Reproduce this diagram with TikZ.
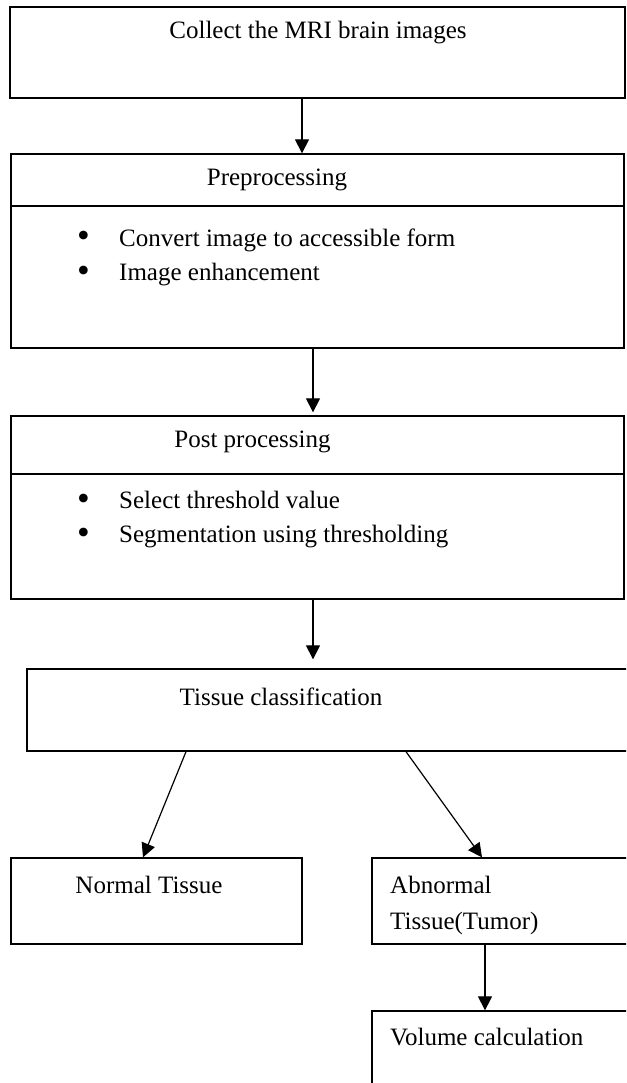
\documentclass[tikz,border=0pt]{standalone}
\usepackage{fontspec}
\setmainfont{Liberation Serif}
\usetikzlibrary{arrows.meta}
\tikzset{
  box/.style={draw=black, line width=1.3pt, rectangle, inner sep=0pt},
  txt/.style={inner sep=0pt, font=\fontsize{25}{36}\selectfont},
  arr/.style={draw=black, line width=1.2pt, -{Triangle[length=14pt,width=14pt]}},
}
\newcommand{\bul}{\makebox[42pt][l]{\raisebox{-1.5pt}{\scalebox{1.45}{\textbullet}}}}
\begin{document}
\begin{tikzpicture}[x=1pt,y=-1pt]
\useasboundingbox (0,0) rectangle (626,1083);
\clip (0,0) rectangle (626,1083);
% boxes
\node[box, minimum width=615pt, minimum height=91pt] (top) at (317.5,52.5) {};
\node[box, minimum width=613pt, minimum height=194pt] (pre) at (317.5,251) {};
\draw[line width=1.3pt] (pre.west |- 0,206) -- (pre.east |- 0,206);
\node[box, minimum width=613pt, minimum height=183pt] (post) at (317.5,507.5) {};
\draw[line width=1.3pt] (post.west |- 0,474) -- (post.east |- 0,474);
\node[box, minimum width=613pt, minimum height=82pt] (tissue) at (333.5,710) {};
\node[box, minimum width=291pt, minimum height=86pt] (normal) at (156.5,901) {};
\node[box, minimum width=268pt, minimum height=86pt] (abn) at (506,901) {};
\node[box, minimum width=268pt, minimum height=100pt] (vol) at (506,1061) {};
% texts
\node[txt] (ttop) at (318,33) {Collect the MRI brain images};
\node[txt] (tpre) at (277,180) {Preprocessing};
\node[txt, anchor=west, align=left] (bpre1) at (77,240) {\bul Convert image to accessible form};
\node[txt, anchor=west, align=left] (bpre2) at (77,275) {\bul Image enhancement};
\node[txt] (tpost) at (252.5,442) {Post processing};
\node[txt, anchor=west, align=left] (bpost1) at (77,501) {\bul Select threshold value};
\node[txt, anchor=west, align=left] (bpost2) at (77,537) {\bul Segmentation using thresholding};
\node[txt] (ttis) at (281,697) {Tissue classification};
\node[txt] (tnorm) at (149,885) {Normal Tissue};
\node[txt, anchor=west] (tabn1) at (390,885) {Abnormal};
\node[txt, anchor=west] (tabn2) at (390,923) {Tissue(Tumor)};
\node[txt, anchor=west] (tvol) at (390,1037) {Volume calculation};
% connectors
\draw[arr] ([xshift=-15.5pt]top.south) -- ([xshift=-15.5pt]pre.north);
\draw[arr, shorten >=3pt] ([xshift=-4.5pt]pre.south) -- ([xshift=-4.5pt]post.north);
\draw[arr, shorten >=9pt] ([xshift=-4.5pt]post.south) -- ([xshift=-20.5pt]tissue.north);
\draw[arr] ([xshift=-147.5pt]tissue.south) -- ([xshift=-13.5pt]normal.north);
\draw[arr] ([xshift=72.5pt]tissue.south) -- ([xshift=-24pt]abn.north);
\draw[arr] ([xshift=-21pt]abn.south) -- ([xshift=-21pt]vol.north);
\end{tikzpicture}
\end{document}
